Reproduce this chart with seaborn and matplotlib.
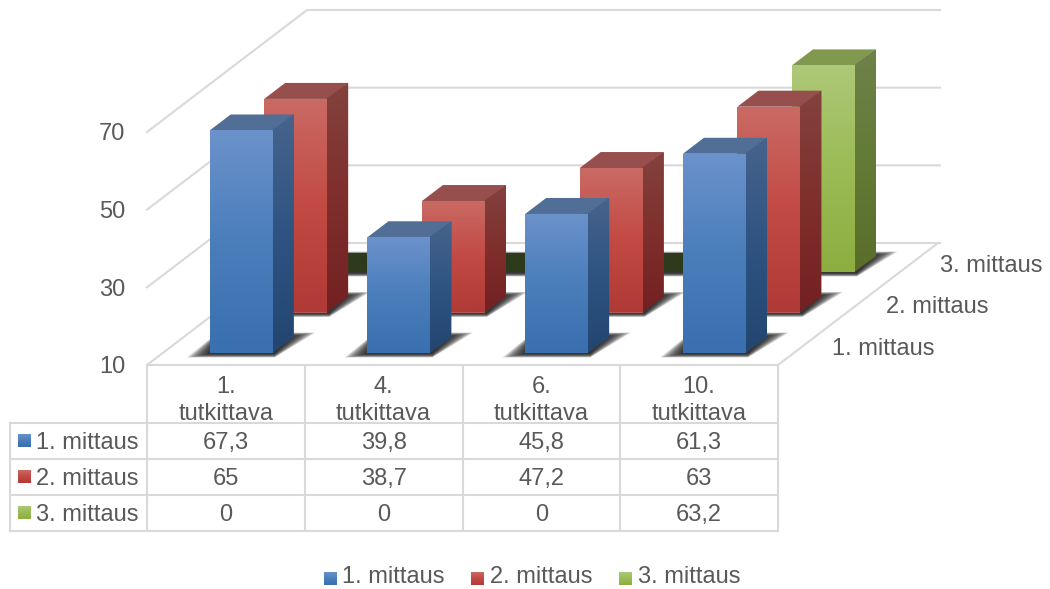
import numpy as np
import pandas as pd
import matplotlib
matplotlib.use("Agg")
import matplotlib.pyplot as plt
from matplotlib.patches import Polygon
import seaborn as sns

# Measurements per subject; series are arranged front to back along the depth axis
categories = ["1.\ntutkittava", "4.\ntutkittava", "6.\ntutkittava", "10.\ntutkittava"]
series_names = ["1. mittaus", "2. mittaus", "3. mittaus"]
mittaus_1 = [67.3, 39.8, 45.8, 61.3]
mittaus_2 = [65, 38.7, 47.2, 63]
mittaus_3 = [0, 0, 0, 63.2]
value_ticks = [10, 30, 50, 70]

W, H = 1050, 589
AXIS_MIN, AXIS_MAX = 10, 70
FLOOR_X, FLOOR_Y = 147.0, 365.0     # front-left corner of the floor
CAT_W = 157.75                      # width of one category, px
PX_PER_UNIT = 233.0 / (AXIS_MAX - AXIS_MIN)
BACK_DX, BACK_DY = 160.0, 122.0     # full depth of the box, px
BAR_W = 63.0
SIDE_DX, SIDE_DY = 21.0, 16.0       # depth of one bar, px
GRID = "#d9d9d9"
TEXT = "#595959"
FONT = 17.0

# (top, middle, bottom) colours of each face
FRONT = [("#6b92cb", "#4a7ebb", "#3a6fb0"),
         ("#ca6a64", "#c34a44", "#b03a36"),
         ("#adc878", "#9bbb55", "#8cae40")]
SIDE = [("#46638c", "#2f5482", "#234570"),
        ("#83423f", "#7f2f2c", "#732022"),
        ("#6f814a", "#647a36", "#5a6e2a")]
TOP = ["#516e97", "#964f4c", "#80994f"]
FLAT = "#2e3a1c"

sns.set_theme(style="white")
plt.rcParams["font.family"] = ["Liberation Sans", "DejaVu Sans"]

fig = plt.figure(figsize=(W / 100, H / 100), dpi=100, facecolor="white")

# Static frame: gridlines, floor, data table and legend, in pixel units
frame = fig.add_axes([0, 0, 1, 1], zorder=0)
frame.set_xlim(0, W)
frame.set_ylim(H, 0)
frame.axis("off")

# Bars: categorical x and value y, scaled so the front plane fits the floor edge
ax = fig.add_axes([0, 0, 1, 1], zorder=1)
ax.patch.set_alpha(0)


def gradient(stops, n=64):
    rgb = np.array([matplotlib.colors.to_rgb(c) for c in stops])
    t = np.linspace(0, 1, n)
    return np.stack([np.interp(t, [0, .5, 1], rgb[:, i]) for i in range(3)], axis=1)[:, None, :]


def line(xs, ys, **kw):
    frame.plot(xs, ys, color=GRID, lw=1.5, solid_capstyle="projecting", **kw)


def label(x, y, s, ha="center", **kw):
    frame.text(x, y + 2.3, s, ha=ha, va="center", color=TEXT, fontsize=FONT, **kw)


# Side wall, back wall and floor
for v in value_ticks:
    y = FLOOR_Y - (v - AXIS_MIN) * PX_PER_UNIT
    line([FLOOR_X, FLOOR_X + BACK_DX, 940], [y, y - BACK_DY, y - BACK_DY])
    label(125.5, y, str(v), ha="right")
line([FLOOR_X + CAT_W * 4, FLOOR_X + CAT_W * 4 + BACK_DX],
     [FLOOR_Y, FLOOR_Y - BACK_DY])

# Data table
table_rows = [365, 423, 459, 495, 531]
table_cols = [FLOOR_X + CAT_W * i for i in range(5)]
for i, y in enumerate(table_rows):
    line([10 if i else table_cols[0], table_cols[-1]], [y, y])
line([10, 10], [table_rows[1], table_rows[-1]])
for i, x in enumerate(table_cols):
    line([x, x], [table_rows[0], table_rows[-1]])

for i, cat in enumerate(categories):
    head, tail = cat.split("\n")
    xc = table_cols[i] + CAT_W / 2
    label(xc, 385, head)
    label(xc, 412, tail)

rows = [mittaus_1, mittaus_2, mittaus_3]
for r, (name, vals) in enumerate(zip(series_names, rows)):
    yc = (table_rows[r + 1] + table_rows[r + 2]) / 2
    frame.imshow(gradient(FRONT[r]), extent=(18, 31, yc + 6.5, yc - 6.5), aspect="auto",
                 interpolation="bilinear", zorder=3)
    label(139, yc, name, ha="right")
    for i, v in enumerate(vals):
        label(table_cols[i] + CAT_W / 2, yc, f"{v:g}".replace(".", ","))

# Depth axis labels
for name, x, y in zip(series_names, [934, 988, 1042], [347, 305, 264]):
    label(x, y, name, ha="right")

# Legend, kept clear of the lower figure edge
for r, (name, x) in enumerate(zip(series_names, [324, 471, 619])):
    frame.imshow(gradient(FRONT[r]), extent=(x, x + 13, 585, 572), aspect="auto",
                 interpolation="bilinear", zorder=3)
    label(x + 18.5, 575, name, ha="left")
frame.set_xlim(0, W)
frame.set_ylim(H, 0)

# Bars from long-form data, one hue level per measurement
df = pd.DataFrame({
    "tutkittava": categories * 3,
    "mittaus": np.repeat(series_names, len(categories)),
    "arvo": mittaus_1 + mittaus_2 + mittaus_3,
})
sns.barplot(data=df, x="tutkittava", y="arvo", hue="mittaus", hue_order=series_names,
            dodge=False, width=BAR_W / CAT_W, errorbar=None, legend=False,
            palette=[c[1] for c in FRONT], ax=ax)

ux, uy = 1 / CAT_W, 1 / PX_PER_UNIT          # one pixel in data units
side_x, side_y = SIDE_DX * ux, SIDE_DY * uy
for d, container in enumerate(ax.containers):
    z = 10 * (3 - d)
    shift_x = (15.3 + 54.5 * d) * ux
    base = AXIS_MIN + (12 + 40.5 * d) * uy
    for patch in container:
        x0 = patch.get_x() + shift_x
        x1 = x0 + patch.get_width()
        value = max(patch.get_height(), AXIS_MIN)
        top = base + value - AXIS_MIN

        # Soft contact shadow on the floor, built from nested translucent shapes
        layers = 10
        for k in range(layers):
            g = (layers - 1 - k) * 2.4
            ax.add_patch(Polygon(
                [(x0 - (g + 1) * ux, base - (1 + g * .16) * uy),
                 (x1 + 2 * ux, base - (1 + g * .16) * uy),
                 (x1 + (SIDE_DX + g) * ux, base + (SIDE_DY + 1 + g * .16) * uy),
                 (x0 + 8 * ux, base + (SIDE_DY + 1 + g * .16) * uy)],
                fc="#111111", ec="none", alpha=.17, zorder=z))

        patch.set_x(x0)
        patch.set_y(base)
        patch.set_height(value - AXIS_MIN)
        patch.set_edgecolor("none")
        patch.set_zorder(z + 1)

        clamped = value <= AXIS_MIN
        if clamped:
            # A value below the axis minimum collapses onto the floor as a dark plate
            rise = side_y + 3 * uy
            ax.add_patch(Polygon([(x0, top), (x1, top), (x1 + side_x, top + rise), (x0 + side_x, top + rise)],
                                 fc=FLAT, ec="none", zorder=z + 2))
            continue

        ax.add_patch(Polygon([(x0, top), (x1, top), (x1 + side_x, top + side_y), (x0 + side_x, top + side_y)],
                             fc=TOP[d], ec="none", zorder=z + 2))
        front_im = ax.imshow(gradient(FRONT[d]), extent=(x0, x1, base, top), aspect="auto",
                             interpolation="bilinear", zorder=z + 3)
        front_im.set_clip_path(patch)
        inner = x1 - 1 * ux
        wall = Polygon([(inner, base), (x1 + side_x, base + side_y),
                        (x1 + side_x, top + side_y), (inner, top)],
                       fc=SIDE[d][1], ec="none", transform=ax.transData, zorder=z + 1)
        ax.add_patch(wall)
        side_im = ax.imshow(gradient(SIDE[d]), extent=(inner, x1 + side_x, base, top + side_y),
                            aspect="auto", interpolation="bilinear", zorder=z + 2)
        side_im.set_clip_path(wall)

# Map axes limits to the figure so that category edges and values land on the floor
ax.set_xlim(-0.5 - FLOOR_X * ux, -0.5 + (W - FLOOR_X) * ux)
ax.set_ylim(AXIS_MIN - (H - FLOOR_Y) * uy, AXIS_MIN + FLOOR_Y * uy)
ax.axis("off")

fig.savefig("out.png", dpi=100, facecolor="white")
